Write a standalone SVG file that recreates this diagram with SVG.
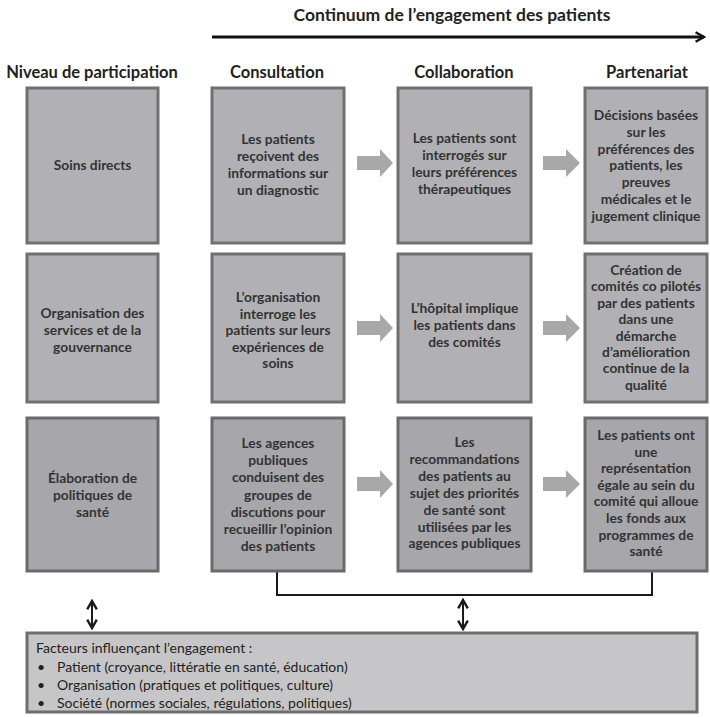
<svg xmlns="http://www.w3.org/2000/svg" width="710" height="717" viewBox="0 0 710 717">
<style>
text{font-family:Lato,"Liberation Sans",sans-serif;fill:#333;}
.hd{font-weight:bold;font-size:16.5px;text-anchor:middle;fill:#222;}
.ttl{font-weight:bold;font-size:17.5px;text-anchor:middle;fill:#222;}
.bx{fill:#b1b1b5;stroke:#707070;stroke-width:3;}
.bx3{fill:#a7a7ab;stroke:#6a6a6a;stroke-width:3;}
.bt{font-weight:bold;font-size:13.8px;text-anchor:middle;}
.ga{fill:#a8a8a8;}
.ln{fill:none;stroke:#1a1a1a;stroke-width:2;}
.ft{font-size:14px;fill:#222;}
</style>
<defs>
<marker id="chev" viewBox="0 0 10 10" refX="8" refY="5" markerWidth="6" markerHeight="6" orient="auto-start-reverse">
<path d="M1,1 L8,5 L1,9" fill="none" stroke="#1a1a1a" stroke-width="2"/>
</marker>
<marker id="bigchev" viewBox="0 0 10 10" refX="8" refY="5" markerWidth="4" markerHeight="4" orient="auto">
<path d="M1,1 L8,5 L1,9" fill="none" stroke="#111" stroke-width="2"/>
</marker>
</defs>

<text class="ttl" x="452" y="21">Continuum de l’engagement des patients</text>

<g id="headers">
<text class="hd" x="92" y="78">Niveau de participation</text>
<text class="hd" x="277" y="78">Consultation</text>
<text class="hd" x="464" y="78">Collaboration</text>
<text class="hd" x="647" y="78">Partenariat</text>
</g>

<g id="connectors">
<line x1="212" y1="37" x2="704" y2="37" stroke="#111" stroke-width="3" marker-end="url(#bigchev)"/>
<polyline class="ln" points="277,571 277,595 652,595 652,571"/>
<line class="ln" x1="92" y1="601" x2="92" y2="628" marker-start="url(#chev)" marker-end="url(#chev)"/>
<line class="ln" x1="463" y1="600" x2="463" y2="629" marker-start="url(#chev)" marker-end="url(#chev)"/>
<polygon class="ga" points="357,156 380,156 380,149 393,163 380,177 380,170 357,170"/>
<polygon class="ga" points="543,156 566,156 566,149 580,163 566,177 566,170 543,170"/>
<polygon class="ga" points="357,321 380,321 380,314 393,328 380,342 380,335 357,335"/>
<polygon class="ga" points="543,321 566,321 566,314 580,328 566,342 566,335 543,335"/>
<polygon class="ga" points="357,477 380,477 380,470 393,484 380,498 380,491 357,491"/>
<polygon class="ga" points="543,477 566,477 566,470 580,484 566,498 566,491 543,491"/>
</g>

<g id="r1c1"><rect class="bx" x="27" y="88" width="131" height="155"/>
<text class="bt" x="92.5" y="170">Soins directs</text></g>

<g id="r1c2"><rect class="bx" x="212" y="88" width="132" height="155"/>
<text class="bt" x="278" y="144">Les patients<tspan x="278" dy="17">reçoivent des</tspan><tspan x="278" dy="17">informations sur</tspan><tspan x="278" dy="17">un diagnostic</tspan></text></g>

<g id="r1c3"><rect class="bx" x="398" y="88" width="133" height="155"/>
<text class="bt" x="464.5" y="143">Les patients sont<tspan x="464.5" dy="17">interrogés sur</tspan><tspan x="464.5" dy="17">leurs préférences</tspan><tspan x="464.5" dy="17">thérapeutiques</tspan></text></g>

<g id="r1c4"><rect class="bx" x="585" y="88" width="122" height="155"/>
<text class="bt" x="646" y="120">Décisions basées<tspan x="646" dy="16.8">sur les</tspan><tspan x="646" dy="16.8">préférences des</tspan><tspan x="646" dy="16.8">patients, les</tspan><tspan x="646" dy="16.8">preuves</tspan><tspan x="646" dy="16.8">médicales et le</tspan><tspan x="646" dy="16.8">jugement clinique</tspan></text></g>

<g id="r2c1"><rect class="bx" x="27" y="254" width="131" height="148"/>
<text class="bt" x="92.5" y="318">Organisation des<tspan x="92.5" dy="17">services et de la</tspan><tspan x="92.5" dy="17">gouvernance</tspan></text></g>

<g id="r2c2"><rect class="bx" x="212" y="254" width="132" height="148"/>
<text class="bt" x="278" y="302">L’organisation<tspan x="278" dy="16.6">interroge les</tspan><tspan x="278" dy="16.6">patients sur leurs</tspan><tspan x="278" dy="16.6">expériences de</tspan><tspan x="278" dy="16.6">soins</tspan></text></g>

<g id="r2c3"><rect class="bx" x="398" y="254" width="133" height="148"/>
<text class="bt" x="464.5" y="313">L’hôpital implique<tspan x="464.5" dy="17">les patients dans</tspan><tspan x="464.5" dy="17">des comités</tspan></text></g>

<g id="r2c4"><rect class="bx" x="585" y="254" width="122" height="148"/>
<text class="bt" x="646" y="275">Création de<tspan x="646" dy="16.4">comités co pilotés</tspan><tspan x="646" dy="16.4">par des patients</tspan><tspan x="646" dy="16.4">dans une</tspan><tspan x="646" dy="16.4">démarche</tspan><tspan x="646" dy="16.4">d’amélioration</tspan><tspan x="646" dy="16.4">continue de la</tspan><tspan x="646" dy="16.4">qualité</tspan></text></g>

<g id="r3c1"><rect class="bx3" x="27" y="418" width="131" height="153"/>
<text class="bt" x="92.5" y="483">Élaboration de<tspan x="92.5" dy="17">politiques de</tspan><tspan x="92.5" dy="17">santé</tspan></text></g>

<g id="r3c2"><rect class="bx3" x="212" y="418" width="132" height="153"/>
<text class="bt" x="278" y="448">Les agences<tspan x="278" dy="17.2">publiques</tspan><tspan x="278" dy="17.2">conduisent des</tspan><tspan x="278" dy="17.2">groupes de</tspan><tspan x="278" dy="17.2">discutions pour</tspan><tspan x="278" dy="17.2">recueillir l’opinion</tspan><tspan x="278" dy="17.2">des patients</tspan></text></g>

<g id="r3c3"><rect class="bx3" x="398" y="418" width="133" height="153"/>
<text class="bt" x="464.5" y="447">Les<tspan x="464.5" dy="16.9">recommandations</tspan><tspan x="464.5" dy="16.9">des patients au</tspan><tspan x="464.5" dy="16.9">sujet des priorités</tspan><tspan x="464.5" dy="16.9">de santé sont</tspan><tspan x="464.5" dy="16.9">utilisées par les</tspan><tspan x="464.5" dy="16.9">agences publiques</tspan></text></g>

<g id="r3c4"><rect class="bx3" x="585" y="418" width="122" height="153"/>
<text class="bt" x="646" y="440">Les patients ont<tspan x="646" dy="16.6">une</tspan><tspan x="646" dy="16.6">représentation</tspan><tspan x="646" dy="16.6">égale au sein du</tspan><tspan x="646" dy="16.6">comité qui alloue</tspan><tspan x="646" dy="16.6">les fonds aux</tspan><tspan x="646" dy="16.6">programmes de</tspan><tspan x="646" dy="16.6">santé</tspan></text></g>

<g id="factors"><rect x="27" y="633" width="670" height="79" fill="#c6c6c8" stroke="#6e6e6e" stroke-width="3"/>
<text class="ft" x="36" y="653">Facteurs influençant l’engagement :</text>
<text class="ft" x="37" y="672">•</text><text class="ft" x="57" y="672">Patient (croyance, littératie en santé, éducation)</text>
<text class="ft" x="37" y="690">•</text><text class="ft" x="57" y="690">Organisation (pratiques et politiques, culture)</text>
<text class="ft" x="37" y="708">•</text><text class="ft" x="57" y="708">Société (normes sociales, régulations, politiques)</text>
</g>
</svg>
